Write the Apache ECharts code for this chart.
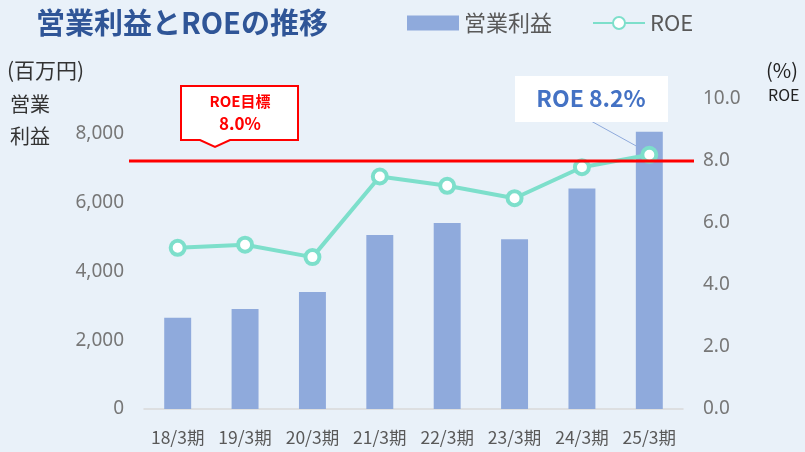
<!DOCTYPE html>
<html>
<head>
<meta charset="utf-8">
<script src="https://cdn.jsdelivr.net/npm/echarts@6/dist/echarts.min.js"></script>
<style>
  html, body { margin: 0; padding: 0; background: #E9F1F9; }
  #main { width: 805px; height: 452px; }
</style>
</head>
<body>
<div id="main"></div>
<script>
// データ
var categories = ['18/3期', '19/3期', '20/3期', '21/3期', '22/3期', '23/3期', '24/3期', '25/3期'];
var profit = [2650, 2900, 3400, 5050, 5400, 4930, 6400, 8050];   // 営業利益（百万円）
var roe = [5.2, 5.3, 4.9, 7.5, 7.2, 6.8, 7.8, 8.2];               // ROE（%）
var roeTarget = 8.0;

var font = '"Noto Sans CJK JP", "Noto Sans", sans-serif';
var myChart = echarts.init(document.getElementById('main'));

var option = {
    backgroundColor: '#E9F1F9',
    textStyle: { fontFamily: font },
    title: {
        text: '営業利益とROEの推移',
        left: 31, top: 3,
        textStyle: { fontSize: 29, fontWeight: 'bold', color: '#2F5597', fontFamily: font }
    },
    legend: {
        left: 402, top: 7,
        itemWidth: 52, itemHeight: 15, itemGap: 40,
        textStyle: { fontSize: 22, color: '#595959', fontFamily: font },
        data: [
            { name: '営業利益', icon: 'rect' },
            { name: 'ROE' }
        ]
    },
    grid: { left: 144, right: 122, top: 99, bottom: 43 },
    xAxis: {
        type: 'category',
        data: categories,
        axisLine: { lineStyle: { color: '#D9D9D9', width: 1.5 } },
        axisTick: { show: false },
        axisLabel: { interval: 0, fontSize: 17.5, color: '#595959', margin: 20, fontFamily: font }
    },
    yAxis: [
        {
            type: 'value', min: 0, max: 9000, interval: 2000,
            splitLine: { show: false },
            axisLabel: {
                fontSize: 19, color: '#777777', margin: 20, showMaxLabel: false,
                fontFamily: '"Segoe UI", "Noto Sans", sans-serif',
                formatter: function (v) { return v.toLocaleString('en-US'); }
            }
        },
        {
            type: 'value', min: 0, max: 10, interval: 2,
            splitLine: { show: false },
            axisLabel: {
                fontSize: 19, color: '#777777', margin: 20,
                fontFamily: '"Segoe UI", "Noto Sans", sans-serif',
                formatter: function (v) { return v.toFixed(1); }
            }
        }
    ],
    series: [
        {
            name: '営業利益',
            type: 'bar',
            data: profit,
            barWidth: '40%',
            itemStyle: { color: '#8FAADC' }
        },
        {
            name: 'ROE',
            type: 'line',
            yAxisIndex: 1,
            data: roe,
            symbol: 'circle',
            symbolSize: 14,
            lineStyle: { color: '#7DDFCB', width: 4 },
            itemStyle: { color: '#FFFFFF', borderColor: '#7DDFCB', borderWidth: 4 },
            z: 5
        }
    ]
};
myChart.setOption(option);

// 目標線と吹き出し
var yT = myChart.convertToPixel({ yAxisIndex: 1 }, roeTarget);
var last = myChart.convertToPixel({ seriesIndex: 1 }, [categories.length - 1, roe[roe.length - 1]]);

myChart.setOption({
    graphic: [
        { type: 'text', left: 7, top: 60, style: { text: '(百万円)', font: '21px ' + font, fill: '#333333' } },
        { type: 'text', left: 10, top: 94, style: { text: '営業', font: '20px ' + font, fill: '#333333' } },
        { type: 'text', left: 10, top: 126, style: { text: '利益', font: '20px ' + font, fill: '#333333' } },
        { type: 'text', left: 766, top: 60, style: { text: '(%)', font: '20px ' + font, fill: '#222222' } },
        { type: 'text', left: 768, top: 87, style: { text: 'ROE', font: '16px ' + font, fill: '#222222' } },
        {
            type: 'line', z: 10,
            shape: { x1: 129, y1: yT, x2: 694, y2: yT },
            style: { stroke: '#FF0000', lineWidth: 3 }
        },
        {
            type: 'polygon', z: 10,
            shape: { points: [[181, 86], [298, 86], [298, 140], [230, 140], [215, 147], [200, 140], [181, 140]] },
            style: { fill: '#FFFFFF', stroke: '#FF0000', lineWidth: 2 }
        },
        {
            type: 'text', z: 11, x: 240, y: 101,
            style: { text: 'ROE目標', font: 'bold 15px ' + font, fill: '#FF0000', align: 'center', verticalAlign: 'middle' }
        },
        {
            type: 'text', z: 11, x: 240, y: 124,
            style: { text: '8.0%', font: 'bold 17px ' + font, fill: '#FF0000', align: 'center', verticalAlign: 'middle' }
        },
        {
            type: 'rect', z: 10,
            shape: { x: 515, y: 76, width: 153, height: 46 },
            style: { fill: '#FFFFFF' }
        },
        {
            type: 'text', z: 11, x: 591, y: 98,
            style: { text: 'ROE 8.2%', font: 'bold 23px ' + font, fill: '#4472C4', align: 'center', verticalAlign: 'middle' }
        },
        {
            type: 'line', z: 4,
            shape: { x1: 591, y1: 121, x2: last[0] - 8, y2: last[1] - 6 },
            style: { stroke: '#8FAADC', lineWidth: 1 }
        }
    ]
});
</script>
</body>
</html>
